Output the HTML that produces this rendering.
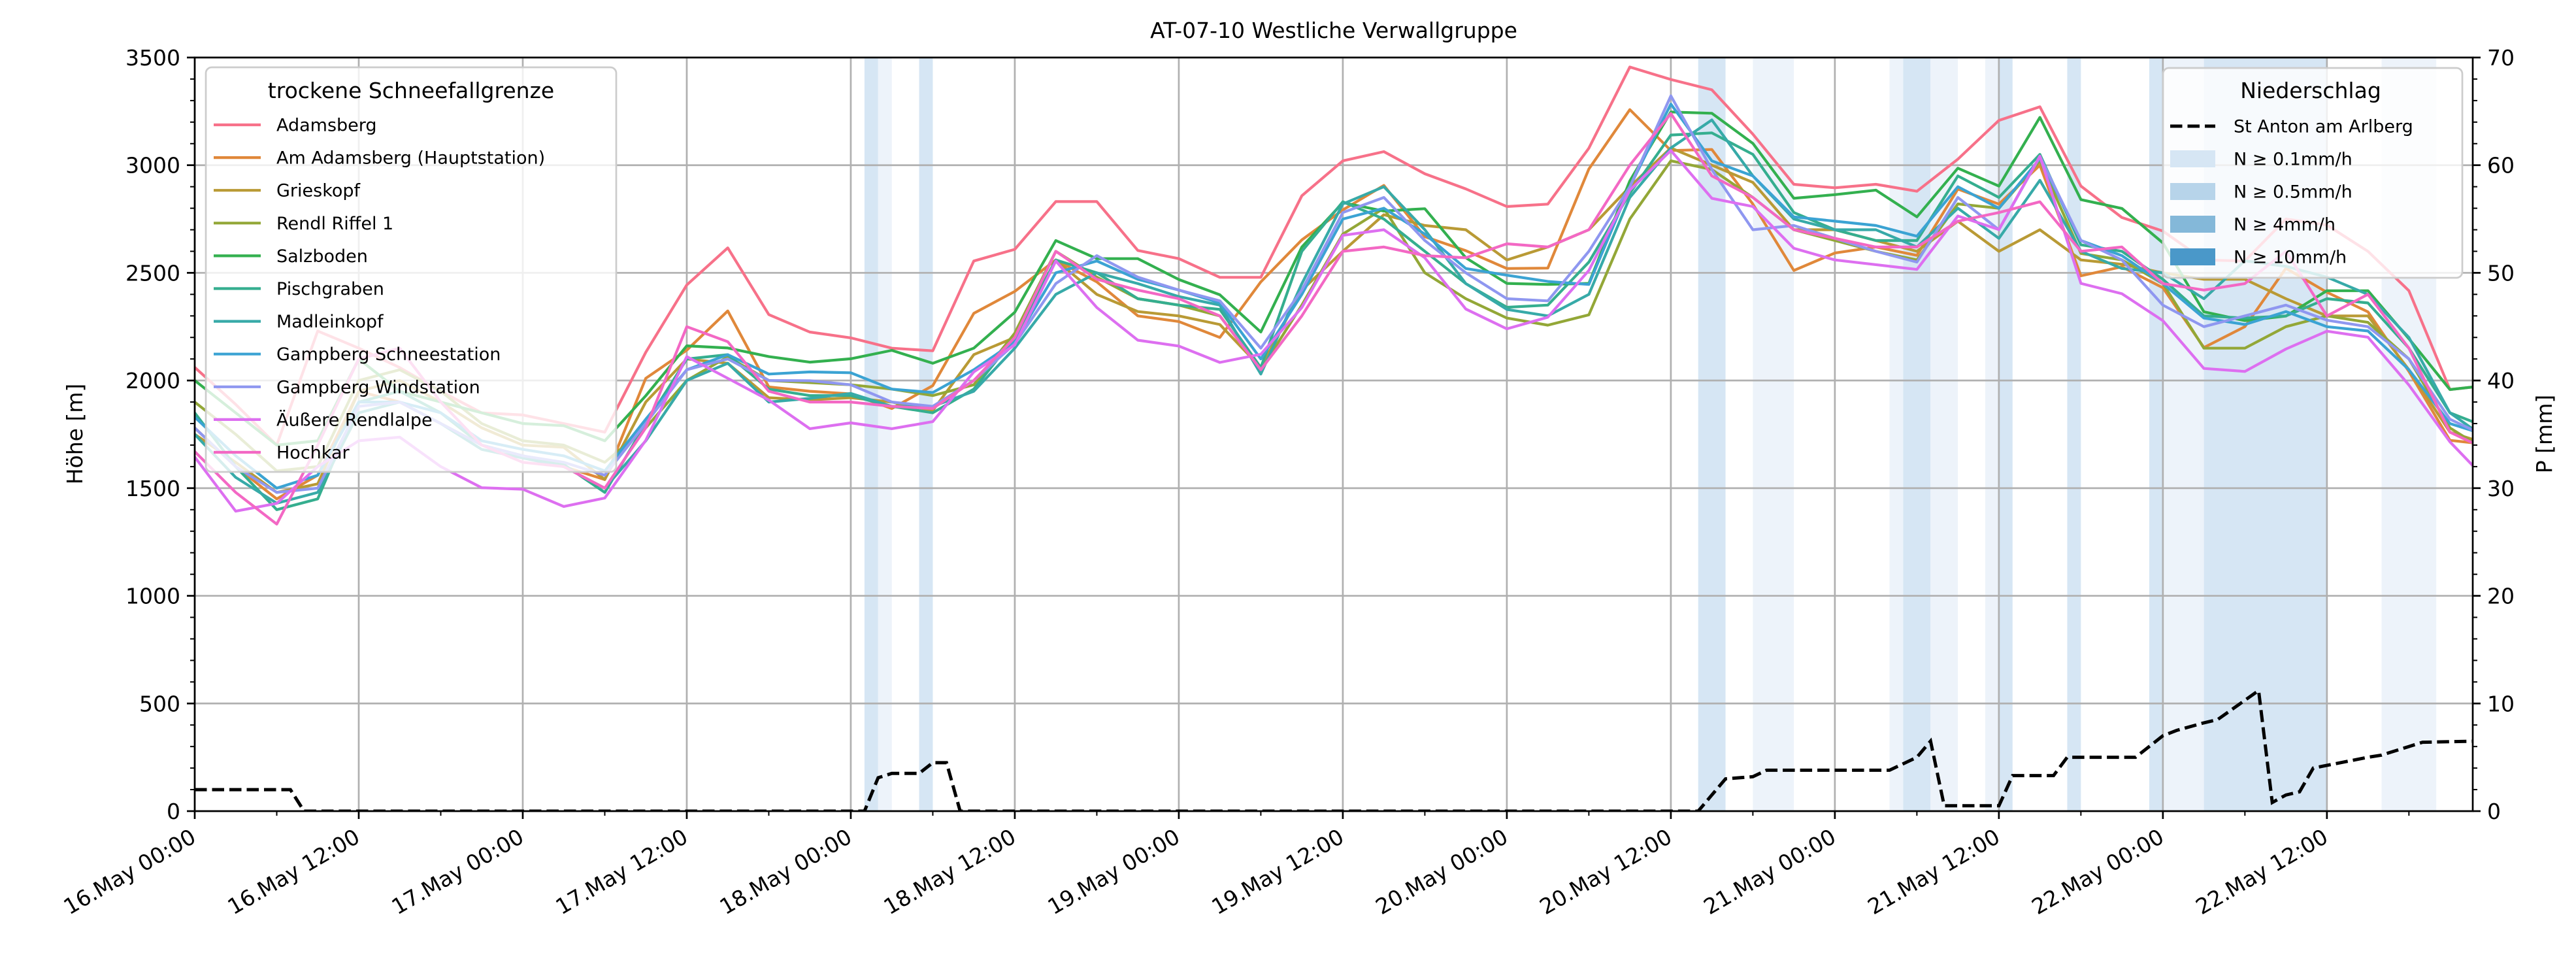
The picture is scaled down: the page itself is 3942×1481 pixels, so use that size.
<!DOCTYPE html>
<html><head><meta charset="utf-8"><style>
html,body{margin:0;padding:0;background:#fff;}
svg{display:block;font-family:"DejaVu Sans","Liberation Sans",sans-serif;}
</style></head><body>
<svg id="chart" width="3942" height="1481" viewBox="0 0 3942 1481" xmlns="http://www.w3.org/2000/svg">
<defs><clipPath id="plotclip"><rect x="298" y="88" width="3486" height="1153"/></clipPath></defs>
<rect x="0" y="0" width="3942" height="1481" fill="#fff"/>
<text x="2041" y="58" font-size="33" text-anchor="middle">AT-07-10 Westliche Verwallgruppe</text>
<g id="bands" clip-path="url(#plotclip)"></g>
<g id="grid"></g>
<g id="lines" clip-path="url(#plotclip)"></g>
<g id="precip" clip-path="url(#plotclip)"></g>
<g id="axes"></g>
<text x="0" y="0" font-size="33" text-anchor="middle" transform="translate(126,664) rotate(-90)">Höhe [m]</text>
<text x="0" y="0" font-size="33" text-anchor="middle" transform="translate(3905,664) rotate(-90)">P [mm]</text>
<g id="legend1"></g>
<g id="legend2"></g>
</svg>
<script>
const hours = [0,3,6,9,12,15,18,21,24,27,30,33,36,39,42,45,48,51,54,57,60,63,66,69,72,75,78,81,84,87,90,93,96,99,102,105,108,111,114,117,120,123,126,129,132,135,138,141,144,147,150,153,156,159,162,165,167];
const stationNames = ["Adamsberg","Am Adamsberg (Hauptstation)","Grieskopf","Rendl Riffel 1","Salzboden","Pischgraben","Madleinkopf","Gampberg Schneestation","Gampberg Windstation","Äußere Rendlalpe","Hochkar"];
const adamsberg = [2061,1889,1700,2230,2150,2060,1950,1850,1840,1800,1760,2131,2444,2616,2306,2225,2198,2150,2138,2555,2609,2831,2831,2604,2566,2479,2479,2858,3020,3063,2960,2890,2808,2819,3079,3456,3398,3350,3144,2911,2895,2911,2879,3028,3208,3271,2903,2757,2694,2560,2555,2750,2722,2600,2417,1958,1972];
const amAdamsberg = [1780,1600,1450,1560,1950,1900,1800,1700,1650,1600,1540,2010,2141,2323,1970,1950,1938,1870,1976,2312,2414,2560,2458,2300,2274,2200,2458,2653,2792,2906,2668,2603,2520,2522,2982,3258,3068,3073,2819,2511,2592,2620,2581,2889,2819,3000,2486,2528,2431,2153,2250,2521,2410,2319,2042,1722,1708];
const grieskopf = [1750,1620,1480,1520,1950,2000,1900,1780,1700,1690,1540,1900,2100,2080,1920,1910,1920,1900,1860,2120,2200,2560,2400,2320,2300,2260,2060,2420,2600,2770,2720,2700,2560,2620,2700,2900,3080,3000,2920,2700,2700,2650,2600,2740,2600,2700,2560,2540,2500,2470,2470,2380,2300,2300,2050,1760,1720];
const rendlRiffel = [1900,1750,1580,1600,2000,2050,1950,1800,1720,1700,1620,1780,2000,2110,2000,1990,1980,1960,1930,1980,2220,2600,2480,2380,2350,2300,2050,2350,2680,2800,2500,2380,2290,2257,2305,2750,3020,2980,2850,2700,2650,2600,2560,2820,2800,3020,2590,2560,2450,2150,2150,2250,2300,2270,2100,1780,1700];
const salzboden = [2000,1850,1700,1720,2100,1950,1900,1850,1800,1790,1720,1929,2161,2151,2111,2085,2101,2140,2080,2150,2317,2650,2566,2566,2469,2398,2225,2620,2826,2787,2798,2570,2451,2446,2451,2927,3247,3241,3101,2846,2863,2884,2760,2986,2903,3222,2840,2799,2639,2319,2278,2299,2417,2417,2194,1958,1972];
const pischgraben = [1850,1600,1400,1450,1900,1950,1850,1700,1650,1610,1480,1800,2100,2120,1960,1930,1930,1880,1850,1960,2200,2560,2500,2380,2350,2330,2060,2600,2830,2750,2600,2450,2340,2350,2550,2870,3140,3150,3050,2780,2700,2650,2650,2950,2850,3050,2630,2600,2470,2300,2290,2300,2380,2360,2150,1850,1800];
const madleinkopf = [1750,1550,1430,1480,1850,1900,1800,1680,1640,1600,1500,1720,2000,2080,1900,1917,1940,1880,1880,1950,2150,2400,2500,2450,2390,2350,2030,2450,2820,2900,2700,2450,2330,2300,2400,2850,3080,3210,2950,2750,2700,2700,2620,2800,2660,2930,2600,2520,2500,2380,2556,2530,2480,2400,2200,1850,1760];
const gampbergSchnee = [1830,1650,1500,1560,1900,1900,1850,1720,1680,1650,1580,1820,2050,2120,2030,2040,2036,1960,1944,2050,2180,2500,2555,2470,2420,2360,2100,2400,2750,2800,2680,2520,2489,2460,2446,2900,3284,3020,2950,2760,2740,2720,2670,2900,2800,3030,2650,2580,2450,2290,2260,2320,2250,2230,2050,1800,1760];
const gampbergWind = [1780,1600,1480,1500,1880,1900,1800,1700,1650,1620,1560,1800,2050,2100,2000,1999,1980,1900,1880,2000,2170,2450,2580,2480,2420,2370,2150,2420,2780,2850,2650,2500,2380,2370,2600,2900,3322,2980,2700,2720,2660,2600,2550,2850,2700,3040,2650,2560,2350,2250,2300,2350,2280,2250,2100,1820,1760];
const rendlalpe = [1645,1393,1429,1600,1720,1737,1600,1502,1495,1415,1454,1722,2111,2010,1909,1776,1803,1776,1809,2040,2165,2555,2339,2187,2160,2084,2122,2339,2674,2700,2570,2332,2240,2294,2511,2884,3068,2846,2808,2614,2560,2538,2516,2764,2701,3042,2451,2403,2278,2056,2042,2146,2229,2201,1979,1715,1583];
const hochkar = [1670,1480,1333,1700,2100,2150,1900,1700,1620,1600,1500,1780,2250,2180,1950,1900,1900,1880,1870,2000,2200,2600,2470,2420,2380,2300,2050,2300,2600,2620,2580,2570,2635,2620,2700,3000,3240,2950,2850,2700,2660,2620,2620,2740,2780,2830,2600,2620,2450,2420,2450,2600,2300,2400,2150,1760,1700];
const precipHours = [0,7,8,49,50,51,53,54,55,56,110,111,112,114,115,124,126,127,128,132,133,136,137,142,144,145,147,148,151,152,153,154,155,159,160,163,167];
const precipValues = [2,2,0,0,3.1,3.5,3.5,4.5,4.5,0,0,1.5,3,3.2,3.8,3.8,5,6.5,0.5,0.5,3.3,3.3,5,5,7,7.5,8.2,8.5,11.2,0.8,1.5,1.8,4,5,5.2,6.4,6.5];
const bandStart = [49,50,53,110,114,124,125,127,131,132,137,143,144,147,160];
const bandEnd   = [50,51,54,112,117,125,127,129,132,133,138,144,147,156,164];
const bandLevel = [1,0,1,1,0,0,1,0,0,1,1,1,0,1,0];
const yTicks = [0,500,1000,1500,2000,2500,3000,3500];
const y2Ticks = [0,10,20,30,40,50,60,70];
const xTickHours = [0,12,24,36,48,60,72,84,96,108,120,132,144,156];
const xTickLabels = ["16.May 00:00","16.May 12:00","17.May 00:00","17.May 12:00","18.May 00:00","18.May 12:00","19.May 00:00","19.May 12:00","20.May 00:00","20.May 12:00","21.May 00:00","21.May 12:00","22.May 00:00","22.May 12:00"];

const NS="http://www.w3.org/2000/svg";
const L=298,R=3784,T=88,B=1241,XMAX=166.67;
const xS=t=>L+(t/XMAX)*(R-L);
const yS=v=>B-(v/3500)*(B-T);
const y2S=p=>B-(p/70)*(B-T);
function mk(tag,attrs,parent){const e=document.createElementNS(NS,tag);for(const k in attrs)e.setAttribute(k,attrs[k]);parent.appendChild(e);return e;}
const colors=["#f77189","#e0883a","#b99a35","#93a737","#33b04f","#35ae8f","#37aaa8","#3ba3d3","#8f97f0","#dd6ff0","#f368c4"];
const seriesData=[adamsberg,amAdamsberg,grieskopf,rendlRiffel,salzboden,pischgraben,madleinkopf,gampbergSchnee,gampbergWind,rendlalpe,hochkar];
const bandColors=["#edf3fa","#d6e6f4"];

const gB=document.getElementById('bands');
bandStart.forEach((s,i)=>{
  const r=mk('rect',{x:xS(s),y:T,width:xS(bandEnd[i])-xS(s),height:B-T,fill:bandColors[bandLevel[i]]},gB);
  
  
});
const gG=document.getElementById('grid');
yTicks.forEach(v=>{const l=mk('line',{x1:L,x2:R,y1:yS(v),y2:yS(v),stroke:'#b0b0b0','stroke-width':2.7},gG);
  
  });
xTickHours.forEach(h=>{const l=mk('line',{x1:xS(h),x2:xS(h),y1:T,y2:B,stroke:'#b0b0b0','stroke-width':2.7},gG);
  
  });

const gL=document.getElementById('lines');
seriesData.forEach((arr,i)=>{
  const pts=arr.map((v,j)=>xS(hours[j]).toFixed(1)+','+yS(v).toFixed(1)).join(' ');
  const p=mk('polyline',{points:pts,fill:'none',stroke:colors[i],'stroke-width':4.2,'stroke-linejoin':'round'},gL);
  
  
});
const gP=document.getElementById('precip');
const pp=mk('polyline',{points:precipValues.map((v,j)=>xS(precipHours[j]).toFixed(1)+','+y2S(v).toFixed(1)).join(' '),fill:'none',stroke:'#000','stroke-width':5,'stroke-dasharray':'18.5,8'},gP);



const gA=document.getElementById('axes');
mk('rect',{x:L,y:T,width:R-L,height:B-T,fill:'none',stroke:'#000','stroke-width':2.7},gA);
yTicks.forEach(v=>{mk('line',{x1:L-12,x2:L,y1:yS(v),y2:yS(v),stroke:'#000','stroke-width':2.7},gA);
  const t=mk('text',{x:L-22,y:yS(v)+12,'font-size':33,'text-anchor':'end'},gA);t.textContent=v;
  
  });
for(let v=0;v<=3500;v+=100){if(v%500)mk('line',{x1:L-7,x2:L,y1:yS(v),y2:yS(v),stroke:'#000','stroke-width':2},gA);}
y2Ticks.forEach(p=>{mk('line',{x1:R,x2:R+12,y1:y2S(p),y2:y2S(p),stroke:'#000','stroke-width':2.7},gA);
  const t=mk('text',{x:R+22,y:y2S(p)+12,'font-size':33,'text-anchor':'start'},gA);t.textContent=p;
  
  });
for(let p=0;p<=70;p+=2){if(p%10)mk('line',{x1:R,x2:R+7,y1:y2S(p),y2:y2S(p),stroke:'#000','stroke-width':2},gA);}
xTickHours.forEach((h,i)=>{mk('line',{x1:xS(h),x2:xS(h),y1:B,y2:B+12,stroke:'#000','stroke-width':2.7},gA);
  const x=xS(h)+4,y=B+46;
  const t=mk('text',{x:x,y:y,'font-size':33,'text-anchor':'end',transform:'rotate(-30 '+x+' '+y+')'},gA);t.textContent=xTickLabels[i];
  
  });
for(let h=6;h<XMAX;h+=12){mk('line',{x1:xS(h),x2:xS(h),y1:B,y2:B+7,stroke:'#000','stroke-width':2},gA);}

const g1=document.getElementById('legend1');
mk('rect',{x:315,y:103,width:628,height:619,rx:9,fill:'#fff','fill-opacity':0.8,stroke:'#cccccc','stroke-width':2.7},g1);
const t1=mk('text',{x:629,y:150,'font-size':33,'text-anchor':'middle'},g1);t1.textContent='trockene Schneefallgrenze';
stationNames.forEach((n,i)=>{const y=191+i*50.1;
  const g=mk('g',{},g1);
  
  
  mk('line',{x1:327,x2:399,y1:y,y2:y,stroke:colors[i],'stroke-width':4.2},g);
  const t=mk('text',{x:423,y:y+9.5,'font-size':27},g);t.textContent=n;});

const g2=document.getElementById('legend2');
mk('rect',{x:3310,y:104,width:458,height:321,rx:9,fill:'#fff','fill-opacity':0.8,stroke:'#cccccc','stroke-width':2.7},g2);
const t2=mk('text',{x:3536,y:150,'font-size':33,'text-anchor':'middle'},g2);t2.textContent='Niederschlag';
const lg2Labels=['St Anton am Arlberg','N ≥ 0.1mm/h','N ≥ 0.5mm/h','N ≥ 4mm/h','N ≥ 10mm/h'];
const lg2Colors=[null,'#d6e6f4','#b7d4ea','#84b8d9','#4a98c9'];
lg2Labels.forEach((n,i)=>{const y=193+i*50;
  const g=mk('g',{},g2);
  
  
  if(i===0)mk('line',{x1:3321,x2:3390,y1:y,y2:y,stroke:'#000','stroke-width':5,'stroke-dasharray':'18.5,8'},g);
  else mk('rect',{x:3321,y:y-13,width:69,height:26,fill:lg2Colors[i]},g);
  const t=mk('text',{x:3418,y:y+9.5,'font-size':27},g);t.textContent=n;});
</script>
</body></html>
